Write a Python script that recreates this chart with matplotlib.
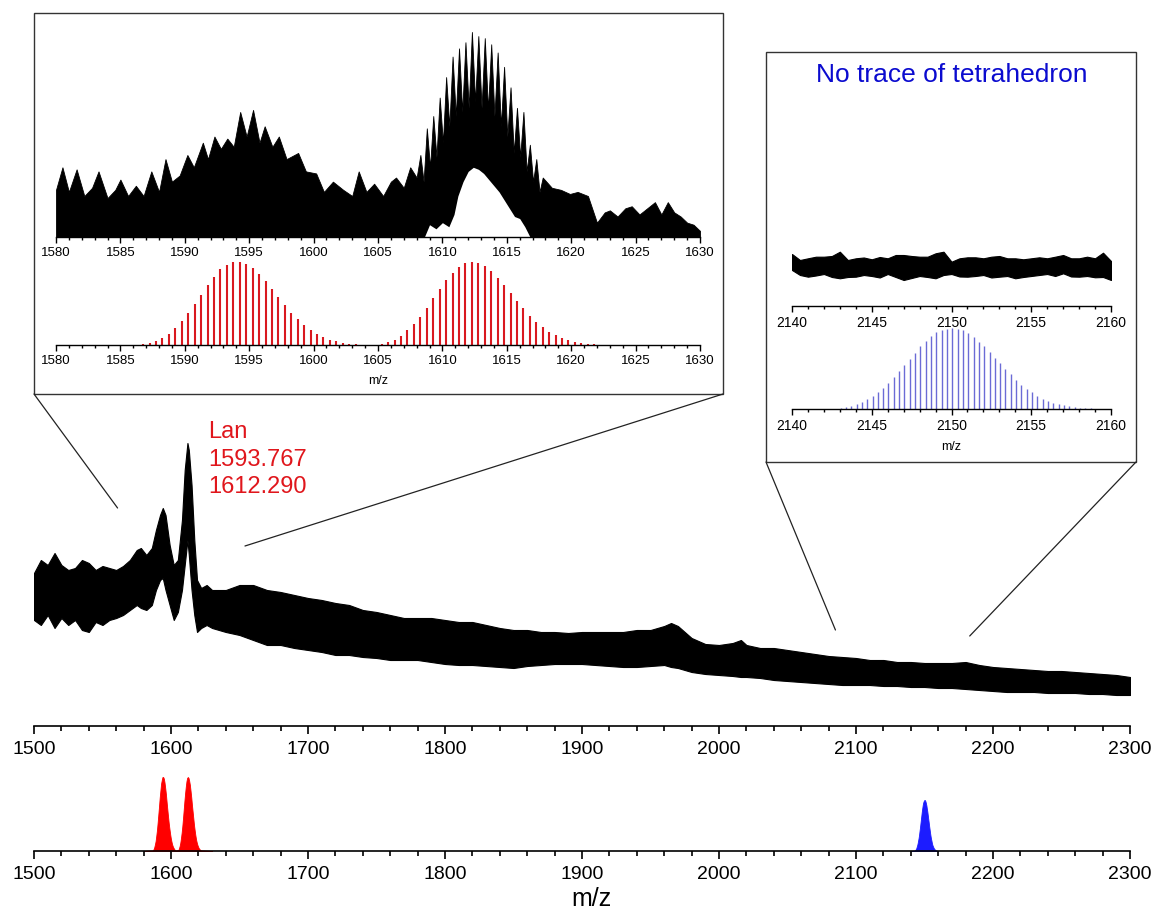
import numpy as np
import matplotlib
matplotlib.use("Agg")
import matplotlib.pyplot as plt
from matplotlib.patches import Rectangle, ConnectionPatch
from matplotlib.ticker import MultipleLocator

plt.rcParams['font.family'] = ['Liberation Sans', 'DejaVu Sans']

W, H = 1158, 915

# ---------------- survey spectrum (a.u.), upper / lower edge of the noisy trace ----------------
survey_mz = [1500, 1505, 1510, 1515, 1520, 1525, 1530, 1535, 1540, 1545, 1550, 1555, 1560, 1565,
             1570, 1575, 1578, 1582, 1586, 1589, 1592, 1594, 1596, 1599, 1602, 1605, 1608, 1610,
             1612, 1613, 1615, 1617, 1619, 1622, 1626, 1630, 1640, 1650, 1660, 1670, 1680, 1690,
             1700, 1710, 1720, 1730, 1740, 1750, 1760, 1770, 1780, 1790, 1800, 1810, 1820, 1830,
             1840, 1850, 1860, 1870, 1880, 1890, 1900, 1910, 1920, 1930, 1940, 1950, 1960, 1965,
             1970, 1975, 1980, 1990, 2000, 2010, 2016, 2020, 2030, 2040, 2050, 2060, 2070, 2080,
             2090, 2100, 2110, 2120, 2130, 2140, 2150, 2160, 2170, 2180, 2190, 2200, 2210, 2220,
             2230, 2240, 2250, 2260, 2270, 2280, 2290, 2300]
survey_upper = [153, 166, 161, 173, 161, 156, 158, 166, 163, 156, 160, 158, 156, 160,
                166, 176, 178, 171, 178, 196, 211, 218, 211, 181, 161, 166, 206, 256,
                283, 276, 241, 186, 146, 138, 141, 136, 136, 141, 141, 136, 134, 131,
                128, 126, 123, 121, 116, 114, 111, 108, 108, 108, 106, 104, 104, 101,
                98, 96, 96, 94, 94, 93, 94, 94, 94, 94, 96, 96, 100, 103,
                100, 94, 88, 82, 81, 83, 86, 81, 78, 78, 76, 74, 72, 70,
                69, 68, 66, 66, 64, 64, 63, 63, 63, 64, 61, 59, 58, 57,
                56, 55, 55, 54, 53, 52, 51, 49]
survey_lower = [106, 101, 111, 98, 108, 101, 106, 96, 94, 104, 101, 106, 108, 111,
                116, 121, 118, 116, 121, 136, 146, 148, 136, 121, 106, 114, 136, 161,
                186, 171, 136, 111, 94, 98, 101, 98, 94, 91, 86, 81, 81, 78,
                76, 74, 71, 71, 69, 68, 66, 66, 66, 64, 62, 61, 61, 60,
                59, 58, 60, 61, 62, 62, 62, 61, 60, 59, 59, 60, 61, 59,
                58, 56, 54, 52, 51, 50, 49, 49, 48, 46, 45, 44, 43, 42,
                41, 41, 41, 40, 40, 39, 39, 38, 38, 37, 36, 35, 34, 34,
                34, 33, 33, 33, 32, 32, 31, 31]

# ---------------- zoomed experimental spectrum 1580-1630 (% of max) ----------------
zoom_mz = [1580.0, 1580.5, 1581.0, 1581.6, 1582.2, 1582.8, 1583.3, 1584.0, 1584.6, 1585.0,
           1585.6, 1586.2, 1586.8, 1587.4, 1588.0, 1588.5, 1589.0, 1589.6, 1590.2, 1590.7,
           1591.4, 1591.8, 1592.3, 1592.8, 1593.3, 1593.8, 1594.3, 1594.8, 1595.3, 1595.8,
           1596.2, 1596.8, 1597.3, 1597.9, 1598.8, 1599.4, 1600.2, 1600.8, 1601.5, 1602.3,
           1603.0, 1603.5, 1604.1, 1604.7, 1605.4, 1606.0, 1606.4, 1607.0, 1607.5, 1608.0,
           1608.29, 1608.54, 1608.79, 1609.04, 1609.29, 1609.54, 1609.79, 1610.04, 1610.29,
           1610.54, 1610.79, 1611.04, 1611.29, 1611.54, 1611.79, 1612.04, 1612.29, 1612.54,
           1612.79, 1613.04, 1613.29, 1613.54, 1613.79, 1614.04, 1614.29, 1614.54, 1614.79,
           1615.04, 1615.29, 1615.54, 1615.79, 1616.04, 1616.29, 1616.54, 1616.79, 1617.04,
           1617.29, 1617.54, 1617.79,
           1618.5, 1619.2, 1619.9, 1620.5, 1621.3, 1622.0, 1622.6, 1623.0, 1623.6, 1624.2,
           1624.7, 1625.3, 1625.9, 1626.5, 1627.0, 1627.5, 1628.0, 1628.5, 1629.0, 1629.5, 1630.0]
zoom_top = [23, 34, 22, 33, 20, 24, 32, 19, 23, 28,
            20, 25, 20, 32, 22, 38, 27, 30, 40, 34,
            46, 38, 49, 43, 48, 44, 61, 49, 62, 46,
            54, 44, 49, 38, 41, 32, 31, 22, 27, 23,
            20, 32, 22, 26, 20, 27, 29, 24, 34, 29,
            40, 27, 53, 34, 59, 39, 68, 46, 78,
            54, 88, 59, 92, 61, 95, 63, 100, 66,
            98, 63, 97, 62, 94, 59, 90, 54, 83,
            49, 73, 41, 63, 39, 61, 32, 45, 27,
            38, 22, 29,
            24, 23, 21, 22, 20, 7, 12, 13, 10, 14,
            15, 11, 14, 17, 11, 17, 12, 10, 7, 6, 3]
# gap under the resolved isotope comb of the 1612 species
gap_mz = [1608.6, 1609.0, 1609.5, 1610.0, 1610.5, 1610.9, 1611.2, 1611.6, 1612.0, 1612.4,
          1612.8, 1613.2, 1613.6, 1614.0, 1614.4, 1614.8, 1615.2, 1615.6, 1616.0, 1616.4, 1616.8]
gap_top = [0, 6, 4, 7, 5, 11, 20, 27, 32, 34,
           33, 31, 28, 25, 22, 18, 14, 10, 9, 5, 0]

# ---------------- simulated isotope patterns (% of max) ----------------
lan_a_mz = 1593.767
lan_a_first = -14          # isotope index of first stick, 0.5 m/z spacing (z = 2)
lan_a_int = [0.8, 2.4, 4.9, 8.9, 13.4, 20.7, 28.5, 38.6, 49.6, 60.6, 72.4, 81.7, 91.1, 95.9,
             100, 100, 98, 92.7, 85.4, 77.2, 67.1, 57.3, 48, 39, 31.3, 24.4, 18.3, 13.4,
             9.3, 6.5, 4.5, 2.8, 1.6, 0.8]
lan_b_mz = 1612.290
lan_b_first = -14
lan_b_int = [1.2, 3.3, 6.6, 11.1, 17.6, 25, 34, 44.7, 56.1, 67.6, 77.9, 86.9, 94.3, 98.8,
             100, 98.8, 94.7, 89.3, 81.1, 72.5, 62.3, 53.3, 44.3, 35.2, 27.9, 21.3, 15.6,
             11.5, 8.2, 5.7, 3.7, 2.5, 1.6, 0.8]
tet_mz = 2150.05
tet_first = -21            # 1/3 m/z spacing (z = 3)
tet_int = [0.8, 2.5, 3.7, 5.7, 9, 11.9, 16, 20.9, 25.8, 32, 39.3, 46.3, 54.1, 61.9, 69.7, 77.5,
           84, 90.2, 94.7, 97.5, 99.2, 100, 99.2, 97.1, 93.4, 89.3, 82.8, 77.5, 70.5, 63.1,
           56.6, 49.2, 42.6, 36.1, 29.9, 24.6, 20.5, 16, 12.3, 9.8, 7.8, 5.7, 4.5, 3.3,
           2.5, 1.6, 1.2, 0.8]
tet_scale_survey = 0.69    # relative height of the blue envelope in the lower strip

# ---------------- tetrahedron window 2140-2160 experimental trace (a.u.) ----------------
tet_win_mz = [2140 + 0.5 * i for i in range(41)]
tet_win_upper = [52, 46, 47.7, 49.3, 49.3, 50, 54.3, 46, 47.7, 48.5, 46.7, 49, 47.7, 51,
                 51, 50, 49.3, 49.3, 52.7, 54.3, 44.3, 47.7, 48.7, 48.7, 47.7, 49.3, 50,
                 47.7, 47.7, 46.7, 47.7, 48.7, 47.7, 49.3, 51, 47.7, 47.7, 49.3, 47.7, 53.3,
                 45]
tet_win_lower = [36, 31, 29.3, 30.5, 32, 29, 27.7, 29, 29.3, 31, 30, 28.5, 32, 29, 26,
                 28, 30, 29, 27.7, 31, 32, 29.5, 29.3, 30, 31, 28.5, 29.3, 30, 27.7, 29,
                 30, 31, 32, 30, 32.7, 29.5, 29.3, 30, 28.7, 29, 26]


def sticks(center, first, ints, spacing):
    idx = np.arange(first, first + len(ints))
    return center + idx * spacing, np.asarray(ints, float)


def rect(x0, y0, x1, y1):
    return [x0 / W, 1 - y1 / H, (x1 - x0) / W, (y1 - y0) / H]


def bottom_axis(ax, major, minor, size, tl_major, tl_minor, pad, lw=1.2):
    for s in ('top', 'left', 'right'):
        ax.spines[s].set_visible(False)
    ax.spines['bottom'].set_linewidth(lw)
    ax.set_yticks([])
    ax.xaxis.set_major_locator(MultipleLocator(major))
    ax.xaxis.set_minor_locator(MultipleLocator(minor))
    ax.tick_params(axis='x', which='major', direction='out', length=tl_major, width=lw,
                   labelsize=size, pad=pad)
    ax.tick_params(axis='x', which='minor', direction='out', length=tl_minor, width=lw)
    ax.patch.set_alpha(0)


RED = '#d9181f'
RED_FILL = '#ff0000'
BLUE_STICK = '#6b6bd6'
BLUE_FILL = '#1c1cff'

fig = plt.figure(figsize=(W / 100, H / 100), dpi=100)

# ---- survey spectrum ----
ax_main = fig.add_axes(rect(34, 430, 1130, 726))
ax_main.fill_between(survey_mz, survey_lower, survey_upper, color='black', lw=0.8,
                     edgecolor='black')
ax_main.set_xlim(1500, 2300)
ax_main.set_ylim(0, 296)
bottom_axis(ax_main, 100, 20, 14, 6, 3.5, 5)

# ---- simulated envelopes strip ----
ax_sim = fig.add_axes(rect(34, 770, 1130, 851))
xa, ya = sticks(lan_a_mz, lan_a_first, lan_a_int, 0.5)
xb, yb = sticks(lan_b_mz, lan_b_first, lan_b_int, 0.5)
xt, yt = sticks(tet_mz, tet_first, tet_int, 1 / 3)
red_x = np.concatenate([[1580], xa, xb, [1630]])
red_y = np.concatenate([[0], ya, yb, [0]])
ax_sim.fill_between(red_x, 0, red_y, color=RED_FILL, lw=0.6, edgecolor=RED_FILL)
ax_sim.fill_between(np.concatenate([[2140], xt, [2160]]),
                    0, np.concatenate([[0], yt * tet_scale_survey, [0]]),
                    color=BLUE_FILL, lw=0.6, edgecolor=BLUE_FILL)
ax_sim.set_xlim(1500, 2300)
ax_sim.set_ylim(0, 109.5)
bottom_axis(ax_sim, 100, 20, 14, 6, 3.5, 5)
fig.text(591 / W, 1 - 899 / H, 'm/z', fontsize=18, ha='center', va='center')

# ---- inset 1 : 1580-1630 ----
fig.add_artist(Rectangle((34 / W, 1 - 394 / H), (723 - 34) / W, (394 - 13) / H,
                         transform=fig.transFigure, fill=False, lw=1.0, ec='#333333'))
ax_z = fig.add_axes(rect(56, 25, 700, 237))
ax_z.fill_between(zoom_mz, 0, zoom_top, color='black', lw=0.6, edgecolor='black')
ax_z.fill_between(gap_mz, 0, gap_top, color='white', lw=0)
ax_z.set_xlim(1580, 1630)
ax_z.set_ylim(0, 103.4)
bottom_axis(ax_z, 5, 1, 9.5, 4, 2.5, 3, lw=1.0)

ax_zs = fig.add_axes(rect(56, 258, 700, 345))
ax_zs.vlines(xa, 0, ya, color=RED, lw=1.5)
ax_zs.vlines(xb, 0, yb, color=RED, lw=1.5)
ax_zs.set_xlim(1580, 1630)
ax_zs.set_ylim(0, 104.8)
bottom_axis(ax_zs, 5, 1, 9.5, 4, 2.5, 3, lw=1.0)
fig.text(378 / W, 1 - 381 / H, 'm/z', fontsize=9, ha='center', va='center')

# ---- inset 2 : 2140-2160 ----
fig.add_artist(Rectangle((766 / W, 1 - 462 / H), (1136 - 766) / W, (462 - 52) / H,
                         transform=fig.transFigure, fill=False, lw=1.0, ec='#333333'))
fig.text(952 / W, 1 - 75 / H, 'No trace of tetrahedron', fontsize=19, color='#0b0bcf',
         ha='center', va='center')
ax_t = fig.add_axes(rect(792, 230, 1111, 306))
ax_t.fill_between(tet_win_mz, tet_win_lower, tet_win_upper, color='black', lw=0.8,
                  edgecolor='black')
ax_t.set_xlim(2140, 2160)
ax_t.set_ylim(0, 76)
bottom_axis(ax_t, 5, 1, 10, 4, 2.5, 3, lw=1.0)

ax_ts = fig.add_axes(rect(792, 324, 1111, 409))
ax_ts.vlines(xt, 0, yt, color=BLUE_STICK, lw=1.0)
ax_ts.set_xlim(2140, 2160)
ax_ts.set_ylim(0, 104.9)
bottom_axis(ax_ts, 5, 1, 10, 4, 2.5, 3, lw=1.0)
fig.text(951 / W, 1 - 447 / H, 'm/z', fontsize=9, ha='center', va='center')

# ---- labels on the survey ----
for i, s in enumerate(['Lan', '1593.767', '1612.290']):
    fig.text(208 / W, 1 - (432 + 27.5 * i) / H, s, fontsize=17, color='#e0161c',
             ha='left', va='center')

# ---- zoom connectors ----
def connect(px, py, mz, inten):
    con = ConnectionPatch(xyA=(px / W, 1 - py / H), coordsA=fig.transFigure,
                          xyB=(mz, inten), coordsB=ax_main.transData,
                          color='#222222', lw=0.9)
    fig.add_artist(con)


connect(34, 394, 1561, 218)
connect(723, 394, 1654, 180)
connect(766, 462, 2085, 96)
connect(1136, 462, 2183, 90)

fig.savefig('out.png', dpi=100)
